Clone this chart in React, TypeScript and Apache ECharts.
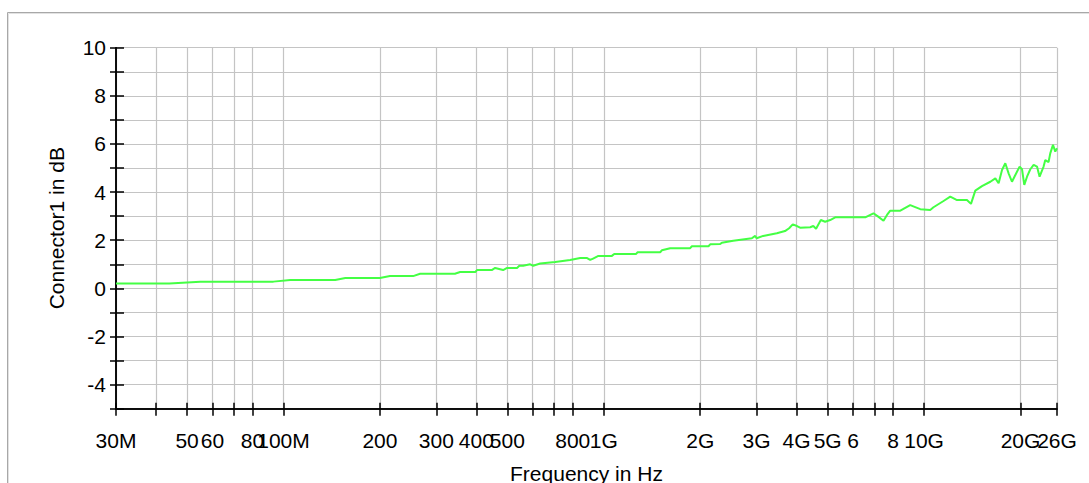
import { useEffect, useRef } from 'react';
import * as echarts from 'echarts';

const freqMHz = [
  30, 44, 55, 93, 105, 145, 156, 200, 215, 254, 267, 343, 356, 397, 402, 447, 458, 485, 499, 536,
  545, 560, 589, 602, 633, 705, 785, 844, 887, 907, 926, 962, 1060, 1078, 1262, 1274, 1500, 1518,
  1612, 1861, 1884, 2123, 2149, 2309, 2337, 2536, 2900, 2970, 3000, 3145, 3470, 3680, 3790, 3890,
  4010, 4100, 4410, 4510, 4600, 4760, 4910, 5090, 5280, 5960, 6550, 6950, 7190, 7470, 7660, 7840,
  8430, 9050, 9730, 10450, 10700, 11500, 12070, 12670, 13610, 14010, 14450, 15160, 16100, 16690,
  17090, 17510, 17930, 18360, 18810, 19270, 19870, 20220, 20550, 20960, 21460, 21980, 22520, 22940,
  23610, 23900, 24470, 24770, 25260, 25680, 26000,
];
const dB = [
  0.2, 0.2, 0.28, 0.28, 0.35, 0.35, 0.43, 0.43, 0.51, 0.51, 0.61, 0.61, 0.68, 0.68, 0.76, 0.76, 0.85, 0.76, 0.85, 0.85,
  0.94, 0.94, 1.0, 0.94, 1.03, 1.1, 1.18, 1.26, 1.26, 1.18, 1.24, 1.35, 1.35, 1.43, 1.43, 1.5, 1.5, 1.58,
  1.67, 1.67, 1.75, 1.75, 1.83, 1.84, 1.9, 1.98, 2.08, 2.18, 2.08, 2.18, 2.29, 2.38, 2.5, 2.66,
  2.59, 2.52, 2.54, 2.59, 2.48, 2.84, 2.77, 2.84, 2.95, 2.95, 2.95, 3.12, 2.98, 2.81, 3.05, 3.23,
  3.23, 3.46, 3.29, 3.26, 3.37, 3.63, 3.81, 3.67, 3.67, 3.51, 4.06, 4.25, 4.43, 4.57,
  4.37, 4.92, 5.2, 4.78, 4.43, 4.71, 5.06, 4.95, 4.3, 4.64, 4.95, 5.13, 5.06, 4.64,
  5.06, 5.33, 5.25, 5.61, 5.96, 5.68, 5.82,
];

// X axis ticks (MHz) and their labels ('' = tick without label)
const tickFreqMHz = [30, 40, 50, 60, 70, 80, 100, 200, 300, 400, 500, 600, 700, 800, 1000, 2000, 3000, 4000, 5000, 6000, 7000, 8000, 10000, 20000, 26000];
const tickLabels = ['30M', '', '50', '60', '', '80', '100M', '200', '300', '400', '500', '', '', '800', '1G', '2G', '3G', '4G', '5G', '6', '', '8', '10G', '20G', '26G'];

const yMin = -5;
const yMax = 10;
const yStep = 1;

const FONT = '"Liberation Sans", Arial, sans-serif';
const FS = 21;

export default function App() {
  const ref = useRef<HTMLDivElement>(null);

  useEffect(() => {
    if (!ref.current) return;
    const chart = echarts.init(ref.current, null, { renderer: 'svg' });
    const xMin = Math.log10(tickFreqMHz[0]);
    const xMax = Math.log10(tickFreqMHz[tickFreqMHz.length - 1]);
    const tickVals = tickFreqMHz.map((f) => Math.log10(f));
    const labelVals = tickFreqMHz.filter((_, i) => tickLabels[i] !== '').map((f) => Math.log10(f));
    const fmtX = (v: number) => {
      for (let i = 0; i < tickVals.length; i++) {
        if (Math.abs(tickVals[i] - v) < 1e-6) return tickLabels[i];
      }
      return '';
    };
    const axisLineStyle = { color: '#000', width: 1.5 };
    const xLabelBase = {
      show: true, formatter: fmtX, fontSize: FS, color: '#000', margin: 21,
      fontFamily: FONT, showMinLabel: true, showMaxLabel: true, hideOverlap: false,
    };

    chart.setOption({
      animation: false,
      backgroundColor: '#fff',
      textStyle: { fontFamily: FONT },
      graphic: [
        { type: 'rect', shape: { x: 7.5, y: 12.5, width: 1200, height: 600 }, style: { fill: 'none', stroke: '#a8a8a8', lineWidth: 1 } },
        { type: 'rect', shape: { x: 8.5, y: 13.5, width: 1200, height: 600 }, style: { fill: 'none', stroke: '#e2e2e2', lineWidth: 1 } },
      ],
      grid: { left: 116, right: 32, top: 47.7, bottom: 74.3, containLabel: false, outerBoundsMode: 'none' },
      xAxis: [
        {
          type: 'value',
          min: xMin,
          max: xMax,
          position: 'bottom',
          name: 'Frequency in Hz',
          nameLocation: 'middle',
          nameGap: 54,
          nameTextStyle: { fontSize: FS, color: '#000', fontFamily: FONT },
          axisLine: { show: true, onZero: false, lineStyle: axisLineStyle },
          axisTick: { show: true, inside: false, length: 7, customValues: tickVals, lineStyle: axisLineStyle },
          axisLabel: { ...xLabelBase, customValues: labelVals.slice(0, -1) },
          splitLine: { show: true, lineStyle: { color: '#c4c4c4', width: 1.2 } },
        },
        {
          type: 'value',
          min: xMin,
          max: xMax,
          position: 'bottom',
          axisLine: { show: true, onZero: false, lineStyle: axisLineStyle },
          axisTick: { show: true, inside: true, length: 6, customValues: tickVals, lineStyle: axisLineStyle },
          axisLabel: { ...xLabelBase, customValues: labelVals.slice(-1) },
          splitLine: { show: false },
        },
      ],
      yAxis: [
        {
          type: 'value',
          min: yMin,
          max: yMax,
          interval: yStep,
          position: 'left',
          name: 'Connector1 in dB',
          nameLocation: 'middle',
          nameGap: 49,
          nameTextStyle: { fontSize: FS, color: '#000', fontFamily: FONT },
          axisLine: { show: true, onZero: false, lineStyle: axisLineStyle },
          axisTick: { show: true, inside: false, length: 6, lineStyle: axisLineStyle },
          axisLabel: {
            show: true,
            fontSize: FS,
            color: '#000',
            margin: 10,
            fontFamily: FONT,
            showMinLabel: true,
            showMaxLabel: true,
            formatter: (v: number) => (Math.round(v) % 2 === 0 ? String(Math.round(v)) : ''),
          },
          splitLine: { show: true, lineStyle: { color: '#c4c4c4', width: 1.2 } },
        },
        {
          type: 'value',
          min: yMin,
          max: yMax,
          interval: yStep,
          position: 'left',
          axisLine: { show: true, onZero: false, lineStyle: axisLineStyle },
          axisTick: { show: true, inside: true, length: 8, lineStyle: axisLineStyle },
          axisLabel: { show: false },
          splitLine: { show: false },
        },
      ],
      series: [
        {
          type: 'line',
          xAxisIndex: 0,
          yAxisIndex: 0,
          showSymbol: false,
          symbol: 'none',
          data: freqMHz.map((f, i) => [Math.log10(f), dB[i]]),
          lineStyle: { color: '#44ff44', width: 2 },
          z: 5,
        },
      ],
    });
    return () => chart.dispose();
  }, []);

  return <div ref={ref} style={{ position: 'fixed', left: 0, top: 0, width: 1089, height: 483 }} />;
}
